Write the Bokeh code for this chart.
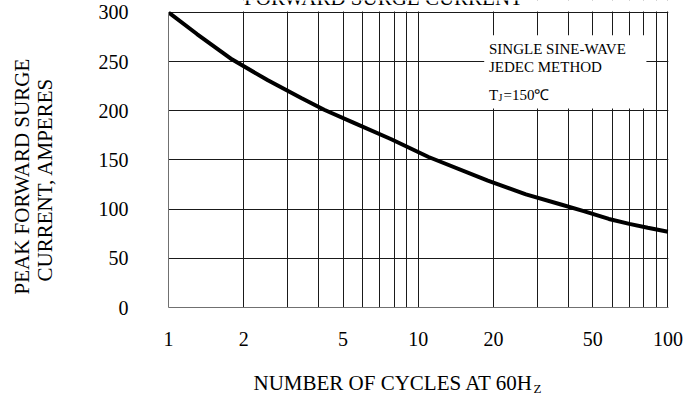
from bokeh.plotting import figure
from bokeh.models import Label, BoxAnnotation, FixedTicker, LinearAxis, LogAxis, Title
from bokeh.embed import file_html
from bokeh.resources import INLINE

# ---- data ----
cycles = [1, 1.3, 1.8, 2.5, 3.4, 4.2, 5.5, 7.8, 11, 19, 27, 37, 46, 58, 70, 83, 100]
amps = [300, 278, 252, 231, 213, 201, 188, 171, 153, 129, 115, 105, 98, 90, 85, 81, 77]
x_tick_values = [1, 2, 5, 10, 20, 50, 100]
x_tick_labels = ["1", "2", "5", "10", "20", "50", "100"]
y_tick_values = [0, 50, 100, 150, 200, 250, 300]
x_grid_values = [2, 3, 4, 5, 6, 7, 8, 9, 10, 20, 30, 40, 50, 60, 70, 80, 90, 100]
y_grid_values = [50, 100, 150, 200, 250, 300]
title_text = "FORWARD SURGE CURRENT"
y_title_lines = ["PEAK FORWARD SURGE", "CURRENT, AMPERES"]
x_title_main = "NUMBER OF CYCLES AT 60H"
x_title_sub = "Z"
note_lines = ["SINGLE SINE-WAVE", "JEDEC METHOD"]

FONT = "Liberation Serif"
W, H = 683, 396
ML, MR, MT, MB = 168, 15, 0, 86
Y_TOP = 310 / (298 / 300)  # frame extends a little above 300 for the cut-off heading

p = figure(width=W, height=H, x_axis_type="log", x_range=(1, 100.5),
           y_range=(0, Y_TOP), output_backend="svg", toolbar_location=None,
           min_border_left=ML, min_border_right=MR, min_border_top=MT,
           min_border_bottom=MB)
p.background_fill_color = "white"
p.border_fill_color = "white"
p.outline_line_color = None

# grid
p.xgrid.ticker = FixedTicker(ticks=x_grid_values)
p.ygrid.ticker = FixedTicker(ticks=y_grid_values)
for g in (p.xgrid, p.ygrid):
    g.grid_line_color = "#1a1a1a"
    g.grid_line_width = 1
    g.minor_grid_line_color = None

# main axes
xa = p.xaxis[0]
xa.ticker = FixedTicker(ticks=x_tick_values)
xa.major_label_overrides = {v: t for v, t in zip(x_tick_values, x_tick_labels)}
xa.axis_line_color = "#707070"
xa.major_tick_line_color = None
xa.minor_tick_line_color = None
xa.major_tick_out = 0
xa.major_tick_in = 0
xa.major_label_standoff = 24
xa.major_label_text_font = FONT
xa.major_label_text_font_size = "20px"
xa.major_label_text_color = "black"

ya = p.yaxis[0]
ya.ticker = FixedTicker(ticks=y_tick_values)
ya.bounds = (0, 300)
ya.axis_line_color = "#707070"
ya.major_tick_line_color = None
ya.minor_tick_line_color = None
ya.major_tick_out = 0
ya.major_tick_in = 0
ya.major_label_standoff = 40
ya.major_label_text_font = FONT
ya.major_label_text_font_size = "20px"
ya.major_label_text_color = "black"


def spacer_axis(cls, gap):
    # an invisible axis that only reserves room between the tick labels and the titles
    return cls(axis_label=" ", ticker=FixedTicker(ticks=[]),
               axis_line_color=None, major_tick_line_color=None,
               minor_tick_line_color=None, major_tick_out=0, major_tick_in=0,
               major_label_standoff=0, major_label_text_font_size="0px",
               axis_label_standoff=gap, axis_label_text_font_size="1px")


def title(text, size, align, offset, valign, standoff):
    return Title(text=text, align=align, offset=offset, vertical_align=valign,
                 standoff=standoff, text_font=FONT, text_font_size=size,
                 text_font_style="normal", text_color="black")


# y title: two lines
p.add_layout(spacer_axis(LinearAxis, 35), "left")
p.add_layout(title(y_title_lines[1], "21px", "left", 26, "bottom", 0), "left")
p.add_layout(title(y_title_lines[0], "21px", "left", 13, "bottom", -6), "left")

# x title with subscript Z
p.add_layout(spacer_axis(LogAxis, 18), "below")
p.add_layout(title(x_title_main, "21px", "right", 135, "top", 0), "below")
p.add_layout(title(x_title_sub, "13px", "left", 365, "top", -32), "below")

# curve
p.line(cycles, amps, line_color="black", line_width=4)

# white strip above the 300 line (heading area)
p.add_layout(BoxAnnotation(bottom=300.8, fill_color="white", fill_alpha=1, line_color=None))

# note box
p.add_layout(BoxAnnotation(left=315.7, right=477.9, top=272.3, bottom=199,
                           left_units="screen", right_units="screen",
                           top_units="screen", bottom_units="screen",
                           fill_color="white", fill_alpha=1, line_color=None))
for yy, t in zip([258.7, 240.6], note_lines):
    p.add_layout(Label(x=320.5, y=yy, x_units="screen", y_units="screen",
                       text=t, text_font=FONT, text_font_size="15px",
                       text_baseline="middle", text_color="black"))
p.add_layout(Label(x=320.5, y=212.9, x_units="screen", y_units="screen",
                   text="T", text_font=FONT, text_font_size="15px",
                   text_baseline="alphabetic", text_color="black"))
p.add_layout(Label(x=330.1, y=210.4, x_units="screen", y_units="screen",
                   text="J", text_font=FONT, text_font_size="10px",
                   text_baseline="alphabetic", text_color="black"))
p.add_layout(Label(x=335.0, y=212.9, x_units="screen", y_units="screen",
                   text="=150\u2103", text_font=FONT, text_font_size="15px",
                   text_baseline="alphabetic", text_color="black"))

# heading, cut off at the top edge as in the reference
p.add_layout(Label(x=215, y=310, x_units="screen", y_units="screen",
                   text=title_text, text_font=FONT, text_font_size="21px",
                   text_align="center", text_baseline="alphabetic", text_color="black"))

open("out.html", "w").write(file_html(p, INLINE))
